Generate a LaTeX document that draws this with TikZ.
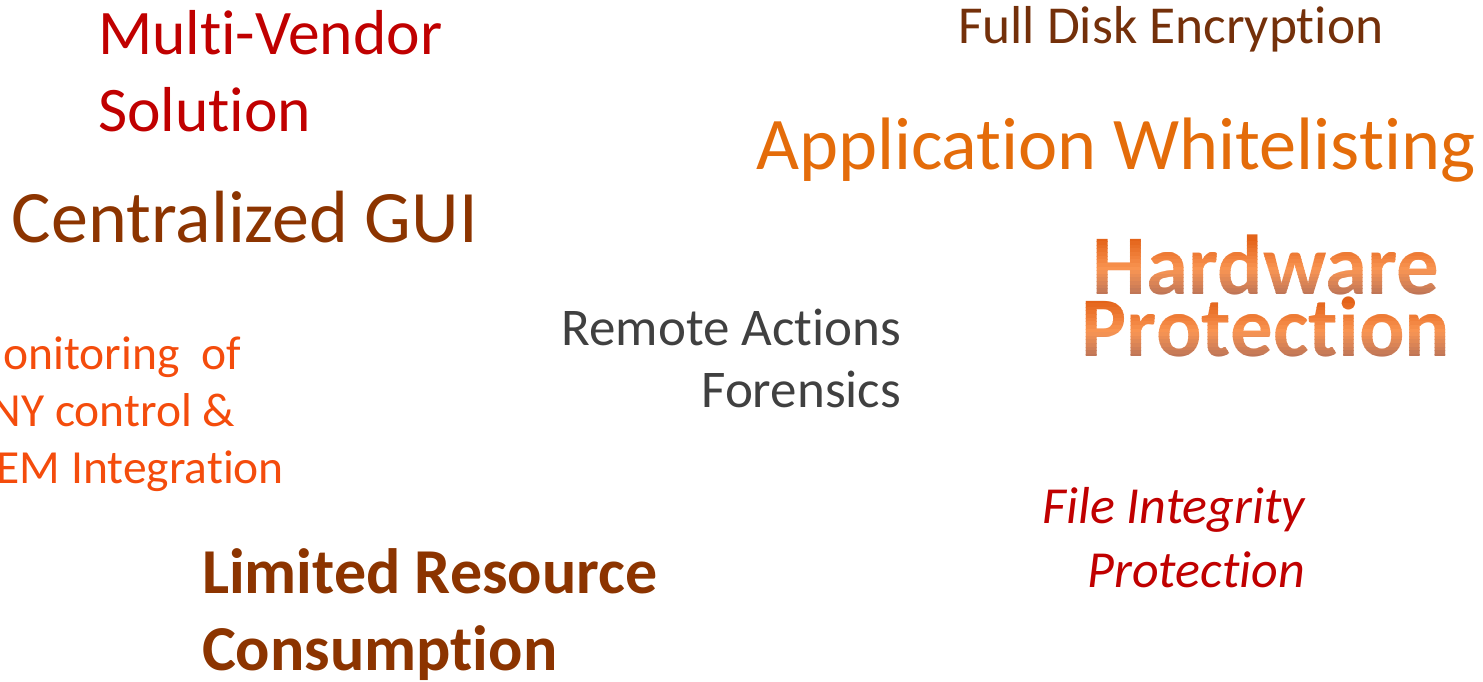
\documentclass[tikz,border=0pt]{standalone}
\usepackage{fontspec}
\setmainfont{Carlito}[RawFeature={-liga}]
\definecolor{vendorred}{HTML}{C00000}
\definecolor{diskbrown}{HTML}{74300A}
\definecolor{whiteorange}{HTML}{E46C0A}
\definecolor{guibrown}{HTML}{8C3400}
\definecolor{monorange}{HTML}{F44C0C}
\definecolor{remotegray}{HTML}{404040}
% banded gradient for the bold orange heading: #1 baseline, #2 cap top, #3 text, #4 name
\newcommand\gradline[4]{%
\foreach \i in {0,...,15}
{
    \pgfmathsetmacro\ya{(\i==0 ? #2-15 : #2-2+\i*(#1-#2+4)/16)}
    \pgfmathsetmacro\yb{(\i==15 ? #1+15 : #2-2+(\i+1)*(#1-#2+4)/16)}
    \pgfmathsetmacro\tt{(\i+0.5)/16}
    \pgfmathtruncatemacro\bandR{\tt<0.55 ? 226+(250-226)*\tt/0.55 : 250+(188-250)*(\tt-0.55)/0.45}
    \pgfmathtruncatemacro\bandG{\tt<0.55 ? 96+(150-96)*\tt/0.55 : 150+(116-150)*(\tt-0.55)/0.45}
    \pgfmathtruncatemacro\bandB{\tt<0.55 ? 22+(84-22)*\tt/0.55 : 84+(88-84)*(\tt-0.55)/0.45}
    \definecolor{bandcol}{RGB}{\bandR,\bandG,\bandB}
    \begin{scope}
    \clip (1000,\ya) rectangle (1483,\yb);
    \node[hwtext, text=bandcol] (#4\i) at (1266,#1) {#3};
    \end{scope}
}}
\begin{document}
\begin{tikzpicture}[x=1pt, y=-1pt,
    word/.style={inner sep=0pt, outer sep=0pt, anchor=base west},
    wordr/.style={inner sep=0pt, outer sep=0pt, anchor=base east},
    hwtext/.style={inner sep=0pt, anchor=base, font=\fontsize{85}{85}\selectfont\bfseries}]
\useasboundingbox (0,0) rectangle (1483,681);
\clip (0,0) rectangle (1483,681);

% top left
\node[word, text=vendorred, font=\fontsize{63.5}{77}\selectfont] (vendor) at (98,54) {Multi-Vendor};
\node[word, text=vendorred, font=\fontsize{63.5}{77}\selectfont] (solution) at (98,131) {Solution};
\node[word, text=guibrown, font=\fontsize{74}{88}\selectfont] (gui) at (12,242) {Centralized GUI};

% top right
\node[word, text=diskbrown, font=\fontsize{53.4}{64}\selectfont] (disk) at (958,43) {Full Disk Encryption};
\node[word, text=whiteorange, font=\fontsize{74.3}{88}\selectfont] (whitelist) at (756,169) {Application Whitelisting};
\gradline{294}{240}{Hardware}{hw}
\gradline{356}{302}{Protection}{prot}

% middle
\node[wordr, text=remotegray, font=\fontsize{53}{64}\selectfont] (remote) at (901,345) {Remote Actions};
\node[wordr, text=remotegray, font=\fontsize{53}{64}\selectfont] (forensics) at (901,407) {Forensics};

% left, cut by the border
\node[word, text=monorange, font=\fontsize{47.5}{57}\selectfont] (monitor) at (-37,369) {Monitoring\ \ of};
\node[word, text=monorange, font=\fontsize{47.5}{57}\selectfont] (anyctl) at (-37,426) {ANY control \&};
\node[word, text=monorange, font=\fontsize{47.5}{57}\selectfont] (siem) at (-37,483) {SIEM Integration};

% bottom
\node[word, text=guibrown, font=\fontsize{64}{77}\selectfont\bfseries] (limited) at (202,593) {Limited Resource};
\node[word, text=guibrown, font=\fontsize{64}{77}\selectfont\bfseries] (consume) at (202,670) {Consumption};
\node[wordr, text=vendorred, font=\fontsize{52}{64}\selectfont\itshape] (integrity) at (1305,523) {File Integrity};
\node[wordr, text=vendorred, font=\fontsize{52}{64}\selectfont\itshape] (fprot) at (1305,587) {Protection};
\end{tikzpicture}
\end{document}
